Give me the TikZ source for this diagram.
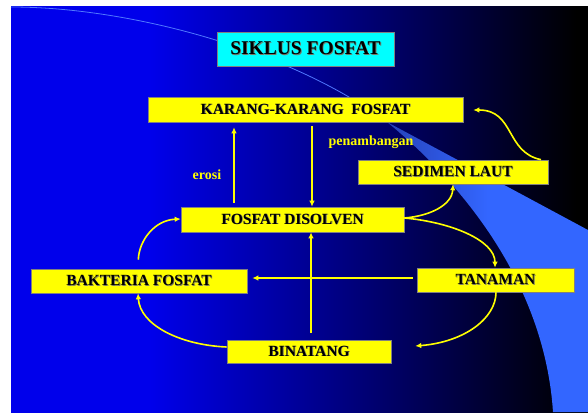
\documentclass[tikz,border=0pt]{standalone}
\usepackage{fontspec}
\setmainfont{Liberation Serif}
\usetikzlibrary{arrows.meta}
\definecolor{slideblue}{RGB}{0,0,235}
\definecolor{swooshblue}{RGB}{51,102,255}
\definecolor{swooshdim}{RGB}{38,66,185}
\definecolor{swooshline}{RGB}{80,120,255}
\definecolor{boxyellow}{RGB}{255,255,0}
\definecolor{titlecyan}{RGB}{0,255,255}
\definecolor{txtshadow}{RGB}{120,120,100}
\pgfdeclarehorizontalshading{slidebg}{100bp}{color(0bp)=(slideblue); color(37bp)=(slideblue); color(74bp)=(black); color(100bp)=(black)}
\newcommand{\shtext}[1]{\makebox[0pt][l]{\kern0.8pt\raisebox{-0.8pt}{\textcolor{txtshadow}{#1}}}#1}
\begin{document}
\begin{tikzpicture}[x=1pt,y=-1pt,
  box/.style={rectangle,fill=boxyellow,draw=gray,line width=0.6pt,inner sep=0pt,
    minimum height=24pt,font=\fontsize{15.5}{18}\selectfont\bfseries},
  titlebox/.style={box,fill=titlecyan,minimum height=34pt,font=\fontsize{19.5}{22}\selectfont\bfseries},
  lbl/.style={text=boxyellow,inner sep=0pt,font=\fontsize{14}{16}\selectfont\bfseries},
  arr/.style={draw=boxyellow,line width=1.6pt,-{Latex[length=6pt,width=5.5pt]}}]
\useasboundingbox (0,0) rectangle (588,412);
% slide background
\shade[shading=slidebg] (11,7) rectangle (588,412);
\shade[left color=swooshdim,right color=swooshblue,middle color=swooshblue]
  (387,122) -- (588,230) -- (588,412) -- (553,412)
  .. controls (545,290) and (470,190) .. (387,122) -- cycle;
\draw[swooshline,line width=0.8pt]
  (11,7) .. controls (130,7) and (290,50) .. (387,122);
% boxes
\node[titlebox,minimum width=177pt] (title) at (305.5,49) {\shtext{SIKLUS FOSFAT}};
\node[box,minimum width=315pt,minimum height=25pt] (karang) at (305.5,109.5) {\shtext{KARANG-KARANG~ FOSFAT}};
\node[box,minimum width=190pt] (sedimen) at (453,172) {\shtext{SEDIMEN LAUT}};
\node[box,minimum width=223pt,minimum height=25pt] (disolven) at (292.5,219.5) {\shtext{FOSFAT DISOLVEN}};
\node[box,minimum width=216pt] (bakteria) at (139,281) {\shtext{BAKTERIA FOSFAT}};
\node[box,minimum width=157pt] (tanaman) at (495.5,280) {\shtext{TANAMAN}};
\node[box,minimum width=164pt,minimum height=23pt] (binatang) at (309,351.5) {\shtext{BINATANG}};
\node[lbl] (erosi) at (207,175) {erosi};
\node[lbl] (tambang) at (371,142) {penambangan};
% straight arrows
\draw[arr,shorten <=4pt,shorten >=5pt] (disolven.north -| 234,0) -- (karang.south -| 234,0);
\draw[arr,shorten <=4pt] (karang.south -| 312,0) -- (disolven.north -| 312,0);
\draw[arr,shorten <=7pt] (binatang.north -| 311,0) -- (disolven.south -| 311,0);
\draw[arr,shorten <=4pt,shorten >=5pt] (tanaman.west |- 0,278) -- (bakteria.east |- 0,278);
% curved arrows
\draw[arr] (sedimen.north -| 541,0) .. controls (505,152) and (515,110) .. ([xshift=10pt,yshift=-0.5pt]karang.east);
\draw[arr] (disolven.east |- 0,218) .. controls (430,216) and (452,205) .. (sedimen.south -| 453,0);
\draw[arr] (disolven.east |- 0,218) .. controls (450,222) and (495,240) .. (tanaman.north -| 495,0);
\draw[arr] (tanaman.south -| 496,0) .. controls (496,318) and (465,342) .. ([xshift=24pt,yshift=5.5pt]binatang.east);
\draw[arr] ([yshift=4.5pt]binatang.west) .. controls (180,345) and (140,325) .. (bakteria.south -| 138,0);
\draw[arr,shorten <=9pt] (bakteria.north -| 138,0) .. controls (139,240) and (155,220) .. (disolven.west |- 0,219);
\end{tikzpicture}
\end{document}
